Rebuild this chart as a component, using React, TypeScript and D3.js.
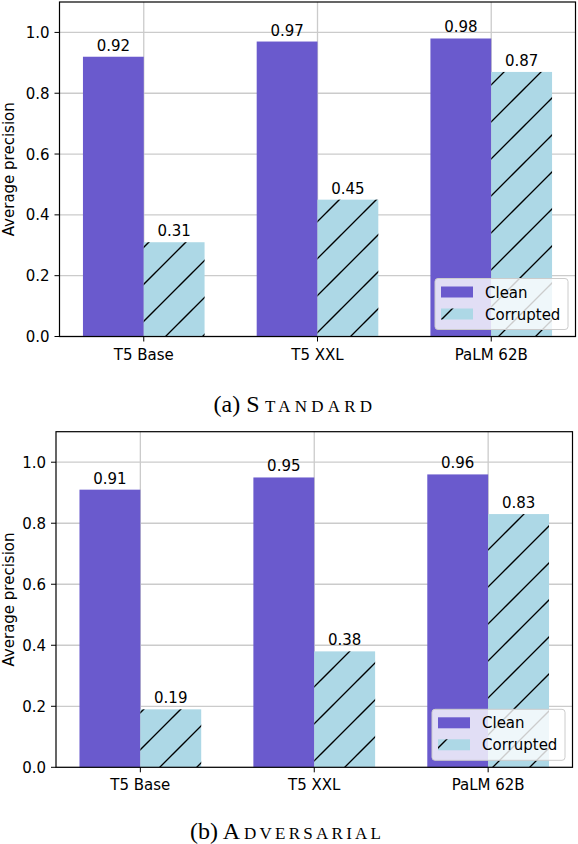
import * as d3 from 'd3';

const models = ['T5 Base', 'T5 XXL', 'PaLM 62B'];
const standardClean = [0.92, 0.97, 0.98];
const standardCorrupted = [0.31, 0.45, 0.87];
const adversarialClean = [0.91, 0.95, 0.96];
const adversarialCorrupted = [0.19, 0.38, 0.83];
const yTicks = [0, 0.2, 0.4, 0.6, 0.8, 1.0];
const seriesNames = ['Clean', 'Corrupted'];

const CLEAN = '#6a5acd';
const CORRUPT = '#add8e6';
const FONT = '"DejaVu Sans", sans-serif';
const SERIF = '"Liberation Serif", "Times New Roman", serif';
const BAR_W = 0.35;

interface PanelProps {
  clean: number[];
  corrupted: number[];
  left: number;
  right: number;
  top: number;
  bottom: number;
  hatchId: string;
  labelX: number;
}

const Panel = ({ clean, corrupted, left, right, top, bottom, hatchId, labelX }: PanelProps) => {
  // matplotlib-like x limits: bars span [-0.35, 2.35] plus 5% margin
  const span = models.length - 1 + 2 * BAR_W;
  const pad = span * 0.05;
  const x = d3
    .scaleLinear()
    .domain([-BAR_W - pad, models.length - 1 + BAR_W + pad])
    .range([left, right]);
  const y = d3.scaleLinear().domain([0, 1.1]).range([bottom, top]);

  const legW = 133;
  const legH = 51;
  const legX = right - 7.5 - legW;
  const legY = bottom - 7 - legH;

  return (
    <g>
      {/* grid */}
      {yTicks.map((t) => (
        <line key={'gy' + t} x1={left} x2={right} y1={y(t)} y2={y(t)} stroke="#cbcbcb" strokeWidth={1.3} />
      ))}
      {models.map((m, i) => (
        <line key={'gx' + m} x1={x(i)} x2={x(i)} y1={top} y2={bottom} stroke="#cbcbcb" strokeWidth={1.3} />
      ))}

      {/* bars */}
      {models.map((m, i) => (
        <g key={'b' + m}>
          <rect x={x(i - BAR_W)} y={y(clean[i])} width={x(i) - x(i - BAR_W)} height={y(0) - y(clean[i])} fill={CLEAN} />
          <rect x={x(i)} y={y(corrupted[i])} width={x(i + BAR_W) - x(i)} height={y(0) - y(corrupted[i])} fill={CORRUPT} />
          <rect x={x(i)} y={y(corrupted[i])} width={x(i + BAR_W) - x(i)} height={y(0) - y(corrupted[i])} fill={`url(#${hatchId})`} />
          <text x={x(i - BAR_W / 2)} y={y(clean[i]) - 6} textAnchor="middle" fontSize={15} fontFamily={FONT}>
            {clean[i].toFixed(2)}
          </text>
          <text x={x(i + BAR_W / 2)} y={y(corrupted[i]) - 6} textAnchor="middle" fontSize={15} fontFamily={FONT}>
            {corrupted[i].toFixed(2)}
          </text>
        </g>
      ))}

      {/* frame */}
      <rect x={left} y={top} width={right - left} height={bottom - top} fill="none" stroke="#000" strokeWidth={1.2} />

      {/* y axis */}
      {yTicks.map((t) => (
        <g key={'ty' + t}>
          <line x1={left - 5} x2={left} y1={y(t)} y2={y(t)} stroke="#000" strokeWidth={1} />
          <text x={left - 10} y={y(t) + 5.5} textAnchor="end" fontSize={15} fontFamily={FONT}>
            {t.toFixed(1)}
          </text>
        </g>
      ))}
      <text
        transform={`translate(${labelX},${(top + bottom) / 2}) rotate(-90)`}
        textAnchor="middle"
        fontSize={15}
        fontFamily={FONT}
      >
        Average precision
      </text>

      {/* x axis */}
      {models.map((m, i) => (
        <g key={'tx' + m}>
          <line x1={x(i)} x2={x(i)} y1={bottom} y2={bottom + 5} stroke="#000" strokeWidth={1} />
          <text x={x(i)} y={bottom + 23} textAnchor="middle" fontSize={15} fontFamily={FONT}>
            {m}
          </text>
        </g>
      ))}

      {/* legend */}
      <rect x={legX} y={legY} width={legW} height={legH} rx={3} fill="#fff" fillOpacity={0.8} stroke="#cccccc" strokeWidth={1} />
      <rect x={legX + 6} y={legY + 8} width={32} height={11} fill={CLEAN} />
      <rect x={legX + 6} y={legY + 30} width={32} height={11} fill={CORRUPT} />
      <rect x={legX + 6} y={legY + 30} width={32} height={11} fill={`url(#${hatchId})`} />
      <text x={legX + 50} y={legY + 19} fontSize={15} fontFamily={FONT}>
        {seriesNames[0]}
      </text>
      <text x={legX + 50} y={legY + 41} fontSize={15} fontFamily={FONT}>
        {seriesNames[1]}
      </text>
    </g>
  );
};

const Hatch = ({ id, phase }: { id: string; phase: number }) => {
  const p = 37;
  const offsets = [phase - p, phase, phase + p, phase + 2 * p];
  return (
    <pattern id={id} patternUnits="userSpaceOnUse" x={0} y={0} width={p} height={p}>
      {offsets.map((c) => (
        <line key={c} x1={-5} y1={c + 5} x2={c + 5} y2={-5} stroke="#000" strokeWidth={1.3} />
      ))}
    </pattern>
  );
};

// caption with a large first letter and small-caps rest
const Caption = ({ head, rest, x, restX, restW, y }: { head: string; rest: string; x: number; restX: number; restW: number; y: number }) => (
  <g fontFamily={SERIF} fill="#000">
    <text x={x} y={y} fontSize={24}>
      {head}
    </text>
    <text x={restX} y={y} fontSize={17} textLength={restW} lengthAdjust="spacing">
      {rest}
    </text>
  </g>
);

export default function App() {
  return (
    <svg
      width={578}
      height={844}
      viewBox="0 0 578 844"
      style={{ position: 'absolute', left: 0, top: 0, background: '#fff' }}
    >
      <defs>
        <Hatch id="hatchTop" phase={21} />
        <Hatch id="hatchBottom" phase={2} />
      </defs>
      <rect width={578} height={844} fill="#fff" />

      <Panel
        clean={standardClean}
        corrupted={standardCorrupted}
        left={59.5}
        right={575.5}
        top={2}
        bottom={336.5}
        hatchId="hatchTop"
        labelX={14}
      />
      <Caption head="(a) S" rest="TANDARD" x={213.5} restX={265} restW={107} y={412} />

      <Panel
        clean={adversarialClean}
        corrupted={adversarialCorrupted}
        left={56}
        right={572.5}
        top={431.7}
        bottom={767.3}
        hatchId="hatchBottom"
        labelX={13.5}
      />
      <Caption head="(b) A" rest="DVERSARIAL" x={190} restX={244} restW={137} y={839} />
    </svg>
  );
}
